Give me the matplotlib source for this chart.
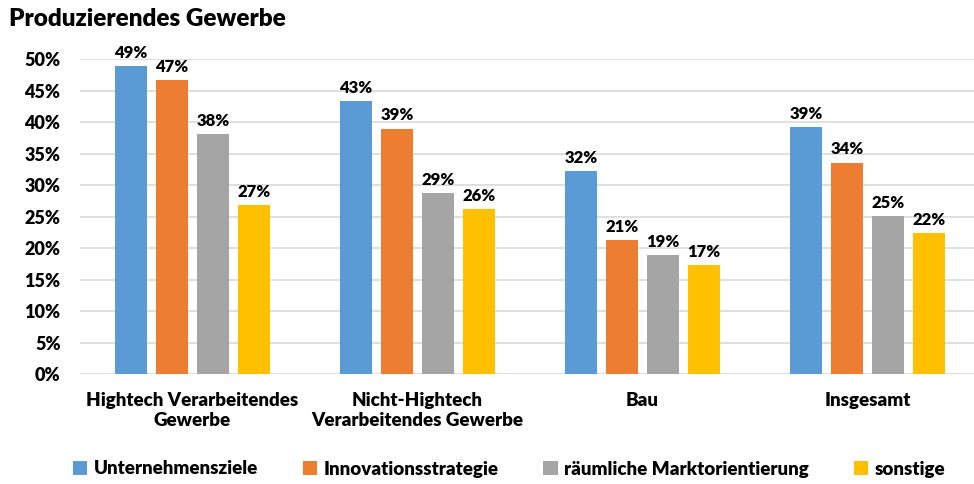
import matplotlib
matplotlib.use('Agg')
import matplotlib.pyplot as plt
import numpy as np
from matplotlib.ticker import FuncFormatter

plt.rcParams['font.family'] = ['Lato', 'DejaVu Sans']
plt.rcParams['font.weight'] = 'heavy'

kategorien = ['Hightech Verarbeitendes\nGewerbe', 'Nicht-Hightech\nVerarbeitendes Gewerbe', 'Bau', 'Insgesamt']
serien = ['Unternehmensziele', 'Innovationsstrategie', 'räumliche Marktorientierung', 'sonstige']
unternehmensziele = [49.0, 43.3, 32.3, 39.3]
innovationsstrategie = [46.7, 39.0, 21.3, 33.6]
marktorientierung = [38.1, 28.7, 18.9, 25.1]
sonstige = [26.9, 26.2, 17.3, 22.4]
farben = ['#5B9BD5', '#ED7D31', '#A5A5A5', '#FFC000']

werte = [unternehmensziele, innovationsstrategie, marktorientierung, sonstige]
gewicht = 'heavy'

fig = plt.figure(figsize=(9.74, 4.84), dpi=100)
ax = fig.add_axes([80 / 974, 1 - 374 / 484, 1 - 80 / 974, (374 - 59.3) / 484])

x = np.arange(len(kategorien))
breite = 0.142
abstand = 0.182
for i, (name, vals, farbe) in enumerate(zip(serien, werte, farben)):
    pos = x + (i - 1.5) * abstand
    bars = ax.bar(pos, vals, breite, color=farbe, label=name, zorder=3)
    for b, v in zip(bars, vals):
        ax.text(b.get_x() + b.get_width() / 2, v + 0.8, f'{round(v):d}%',
                ha='center', va='bottom', fontsize=12, fontweight=gewicht)

ax.set_ylim(0, 50)
ax.set_xlim(-0.5, 3.5 - 6 / 225)
ax.set_yticks(np.arange(0, 51, 5))
ax.yaxis.set_major_formatter(FuncFormatter(lambda v, p: f'{v:.0f}%'))
ax.grid(axis='y', color='#D9D9D9', linewidth=1.2, zorder=0)
for s in ax.spines.values():
    s.set_visible(False)
ax.tick_params(axis='y', length=0, labelsize=13, pad=14)
ax.set_xticks(x)
ax.set_xticklabels(kategorien, fontsize=13.5, fontweight=gewicht, linespacing=1.2)
ax.tick_params(axis='x', length=0, pad=13)
for t in ax.get_yticklabels():
    t.set_fontweight(gewicht)

fig.text(9 / 974, 1 - 19 / 484, 'Produzierendes Gewerbe', fontsize=17.5, fontweight=gewicht,
         va='center', ha='left')

leg = fig.legend(loc='center', bbox_to_anchor=(509 / 974, 1 - 469 / 484), ncol=4, frameon=False,
                 fontsize=13.5, handlelength=0.75, handleheight=0.75, handletextpad=0.35,
                 columnspacing=2.4)
for t in leg.get_texts():
    t.set_fontweight(gewicht)

fig.savefig('out.png', dpi=100)
